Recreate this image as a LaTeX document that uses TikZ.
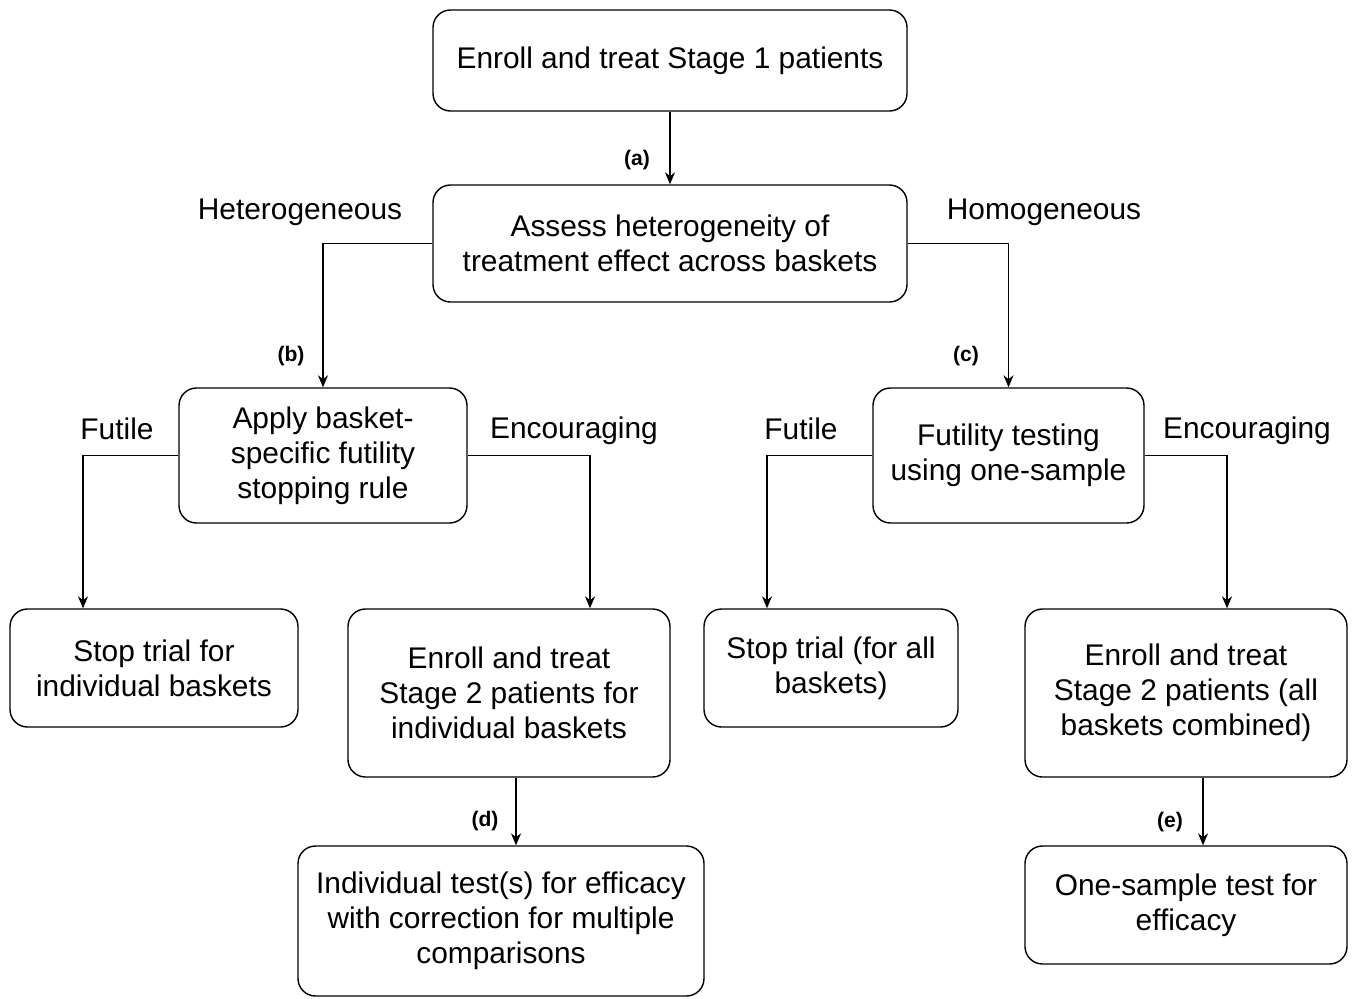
\documentclass[tikz,border=0pt]{standalone}
\usepackage{fontspec}
\setmainfont{Liberation Sans}
\usetikzlibrary{arrows.meta,positioning}

\begin{document}
\begin{tikzpicture}[
  >={Stealth[length=2.4mm, width=2mm]},
  every node/.style={font=\fontsize{17}{20}\selectfont},
  stepbox/.style={rectangle, draw=black, line width=0.8pt, rounded corners=3.5mm, align=center, fill=white},
  branch/.style={inner sep=0pt},
  letter/.style={font=\fontsize{12}{14}\selectfont\bfseries, inner sep=0pt},
  flow/.style={->, line width=0.8pt},
]
\useasboundingbox (0,0) rectangle (27.1,-19.96);

% ---- stage 1 ----
\node[stepbox, minimum width=9.48cm, minimum height=2.02cm] (enroll1) at (13.4, -1.21) {Enroll and treat Stage 1 patients};
\node[stepbox, minimum width=9.48cm, minimum height=2.34cm] (assess)  at (13.4, -4.87) {Assess heterogeneity of\\treatment effect across baskets};

% ---- interim decisions ----
\node[stepbox, minimum width=5.76cm, minimum height=2.70cm] (basketrule) at (6.46, -9.11)  {Apply basket-\\specific futility\\stopping rule};
\node[stepbox, minimum width=5.42cm, minimum height=2.70cm] (futtest)    at (20.17, -9.11) {Futility testing\\using one-sample};

% ---- stage 2 ----
\node[stepbox, minimum width=5.76cm, minimum height=2.36cm] (stopind)   at (3.08, -13.36)  {Stop trial for\\individual baskets};
\node[stepbox, minimum width=6.44cm, minimum height=3.36cm] (enroll2ind) at (10.18, -13.86) {Enroll and treat\\Stage 2 patients for\\individual baskets};
\node[stepbox, minimum width=5.08cm, minimum height=2.36cm] (stopall)   at (16.62, -13.36) {Stop trial (for all\\baskets)};
\node[stepbox, minimum width=6.44cm, minimum height=3.36cm] (enroll2all) at (23.72, -13.86) {Enroll and treat\\Stage 2 patients (all\\baskets combined)};

% ---- final tests ----
\node[stepbox, minimum width=8.12cm, minimum height=3.00cm] (indtest) at (10.02, -18.42) {Individual test(s) for efficacy\\with correction for multiple\\comparisons};
\node[stepbox, minimum width=6.44cm, minimum height=2.36cm] (onetest) at (23.72, -18.10) {One-sample test for\\efficacy};

% ---- connectors ----
\draw[flow] (enroll1) -- (assess);
\draw[flow] (assess.west) -| (basketrule.north);
\draw[flow] (assess.east) -| (futtest.north);
\draw[flow] (basketrule.west) -| (stopind.north -| 1.66,0);
\draw[flow] (basketrule.east) -| (enroll2ind.north -| 11.8,0);
\draw[flow] (futtest.west) -| (stopall.north -| 15.34,0);
\draw[flow] (futtest.east) -| (enroll2all.north -| 24.54,0);
\draw[flow] ([xshift=1.4mm]enroll2ind.south) -- ([xshift=1.4mm]enroll2ind.south |- indtest.north);
\draw[flow] ([xshift=3.4mm]enroll2all.south) -- ([xshift=3.4mm]enroll2all.south |- onetest.north);

% ---- branch labels ----
\node[branch]  (hetlbl)  at (6.0, -4.24)   {Heterogeneous};
\node[branch]  (homlbl)  at (20.88, -4.24) {Homogeneous};
\node[branch]  (futL)    at (2.34, -8.58)  {Futile};
\node[branch]  (encL)    at (11.48, -8.62) {Encouraging};
\node[branch]  (futR)    at (16.02, -8.58) {Futile};
\node[branch]  (encR)    at (24.94, -8.62) {Encouraging};

% ---- step letters ----
\node[letter] (la) at (12.74, -3.20)  {(a)};
\node[letter] (lb) at (5.82, -7.12)   {(b)};
\node[letter] (lc) at (19.32, -7.12)  {(c)};
\node[letter] (ld) at (9.70, -16.42)  {(d)};
\node[letter] (le) at (23.40, -16.44) {(e)};

\end{tikzpicture}
\end{document}
